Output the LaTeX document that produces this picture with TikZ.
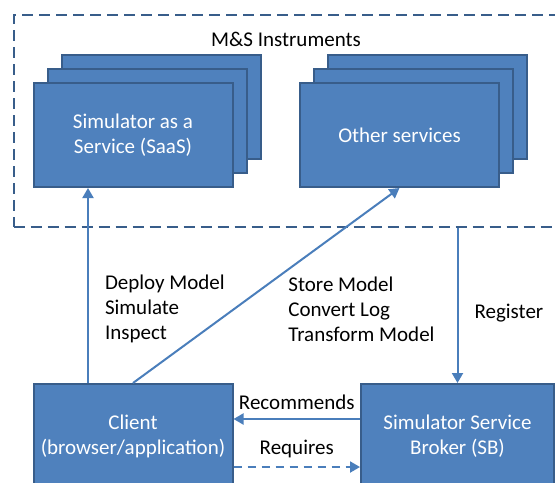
\documentclass[tikz,border=0pt]{standalone}
\usepackage{fontspec}
\setmainfont{Carlito}
\usetikzlibrary{arrows.meta, positioning, fit, backgrounds}

\definecolor{boxfill}{HTML}{4F81BD}
\definecolor{boxline}{HTML}{385D8A}
\definecolor{linkblue}{HTML}{4A7EBB}

\begin{document}
\begin{tikzpicture}[x=0.5pt, y=-0.5pt, >={Triangle[length=5pt, width=5.5pt]},
        % Node Styles
        base/.style={rectangle, draw=boxline, line width=1pt, fill=boxfill, text=white, align=center, font=\fontsize{10.5}{12.5}\selectfont},
        svc/.style={base, minimum width=99.5pt, minimum height=52pt},
        party/.style={base, minimum height=52pt},
        annot/.style={align=left, inner sep=0pt, text=black, font=\fontsize{10.5}{12.5}\selectfont},
        group/.style={draw=boxline, line width=1pt, dash pattern=on 5.5pt off 3pt, inner sep=0pt},
        arrow/.style={->, line width=1pt, draw=linkblue},
        dashedarrow/.style={arrow, dash pattern=on 4pt off 3pt}
    ]
    \clip (0,0) rectangle (555,482);

    % --- 1. Instrument group (runs off the right edge) ---
    \coordinate (grp-nw) at (13.5,15);
    \coordinate (grp-se) at (580,227);
    \node[group, fit=(grp-nw)(grp-se)] (instr) {};
    \node[annot, anchor=center] (instr-title) at (286,39) {M\&S Instruments};

    % --- 2. Service stacks ---
    \node[svc] (saas) at (133,135) {Simulator as a\\Service (SaaS)};
    \node[svc] (other) at (399.5,135) {Other services};
    \begin{scope}[on background layer]
        \node[svc] (saas-back) at ([shift={(28,-28)}]saas.center) {};
        \node[svc] (saas-mid) at ([shift={(14,-14)}]saas.center) {};
        \node[svc] (other-back) at ([shift={(28,-28)}]other.center) {};
        \node[svc] (other-mid) at ([shift={(14,-14)}]other.center) {};
    \end{scope}

    % --- 3. Client and broker ---
    \node[party, minimum width=99.5pt] (client) at (133,436) {Client\\(browser/application)};
    \node[party, minimum width=96.5pt] (broker) at (457.5,436) {Simulator Service\\Broker (SB)};

    % --- Routing Connections ---
    \draw[arrow] ([xshift=-22.5pt]client.north) -- node[pos=0.38, right=8pt, annot] (ops-saas) {Deploy Model\\Simulate\\Inspect} ([xshift=-22.5pt]saas.south);
    \draw[arrow] (client.north) -- (other.south);
    \node[annot, anchor=west] (ops-other) at (288,309) {Store Model\\Convert Log\\Transform Model};
    \draw[arrow] (broker.north |- instr.south) -- node[pos=0.55, right=8pt, annot] (reg) {Register} (broker.north);

    % Broker <-> client
    \draw[arrow] ([yshift=8.5pt]broker.west) -- node[above=4pt, annot] (rec) {Recommends} ([yshift=8.5pt]client.east);
    \draw[dashedarrow] ([yshift=-15.5pt]client.east) -- node[above=4pt, annot] (req) {Requires} ([yshift=-15.5pt]broker.west);

\end{tikzpicture}
\end{document}
